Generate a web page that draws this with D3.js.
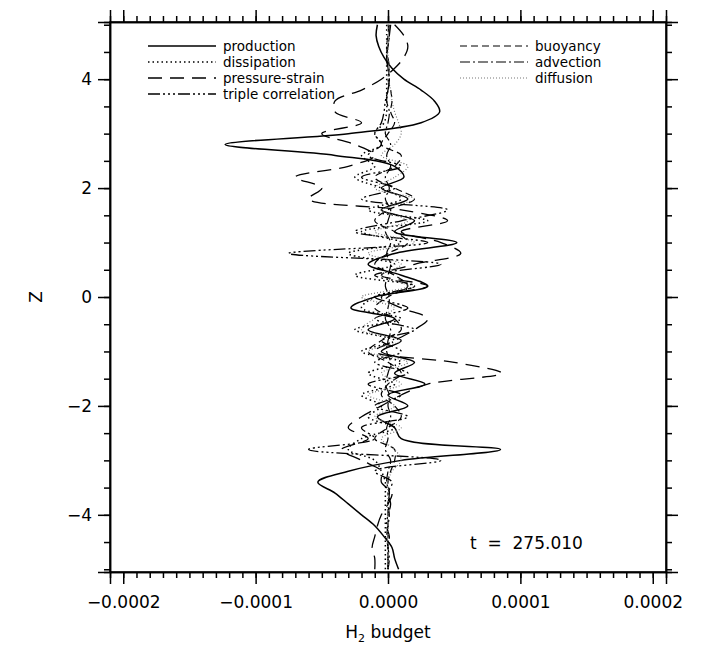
<!DOCTYPE html>
<html><head><meta charset="utf-8">
<script src="https://cdn.jsdelivr.net/npm/d3@7"></script>
<style>body{margin:0;background:#fff}text{font-family:"DejaVu Sans",sans-serif}</style>
</head><body><svg id="c" width="722" height="649"></svg>
<script>
// z levels from 5.0 down to -5.0 step 0.2; values in units of 1e-5
const zLevels = d3.range(51).map(i => +(5 - i*0.2).toFixed(1));
const production = [-0.8,-0.9,-0.7,-0.3,0.3,1.2,2.5,3.5,3.9,2.5,-3,-12.3,-4,0.5,1.2,-0.5,1.5,-0.5,2,0.5,5.2,0.5,-1.5,1,3,-1,-2.8,0.5,-1.5,1,-0.5,2,0.5,2.8,0,1.5,-0.8,0.5,1,8.5,1,-3,-5.3,-4,-3,-2,-1,-0.3,0.3,0.5,0.8];
const dissipation = [-0.1,-0.1,-0.1,-0.1,-0.1,-0.1,-0.1,-0.1,-0.1,-0.3,-1,-0.5,-2,-1,-2.5,-0.5,1,-1.5,3,-2,1,-3,0.5,-2.5,2,-1,-2,1,-2.5,0.5,-2,1,-1.5,0.5,-2,-0.5,-1.5,0.5,-2,-3,-1,-0.5,-0.2,-0.2,-0.2,-0.2,-0.2,-0.2,-0.2,-0.2,-0.2];
const pressureStrain = [0.5,1.2,1.5,1.2,0.5,-0.5,-2,-4,-4,-2,-5,-2.5,-1,-3,-7,-5,-6,1,4.5,1,4,5.5,2,-0.5,3,-0.5,1,3,2,0.5,-1,5,8.6,3,1,-0.5,-2,-3,-1.5,-3.5,-2,-0.5,-0.5,0.3,0,-0.5,-0.8,-1,-1.2,-1,-1];
const tripleCorrelation = [0.2,0.1,0,-0.1,0,0.1,0,-0.2,-0.3,-0.5,-1,-0.5,-1.5,1,-2,0.5,-2,4.5,1,-2.5,3,-7.5,4,-1,2,-1,1.5,-1,2,-0.5,1,-1,1.5,-1.5,1,-1,1.5,-2,-1,-6,4,-1,0.3,0,0.2,0,-0.1,0.1,0,0,0];
const buoyancy = [0.1,0,-0.1,0,0.1,0,0.2,0.3,0.2,0.5,0,-0.5,1,0.5,-1,0.5,2,0,-1,0.5,1.5,0,-1,0.5,1.5,0,-1,0.5,1,-0.5,-1.5,0,1,0,-0.5,0.5,1,0,-1,0.5,0.5,0.2,0,0.1,0,0,0,0,0,0,0];
const advection = [0,0.1,0,-0.1,0,0.1,0,-0.1,0.1,0,-0.2,0.2,-0.1,0.2,-0.2,0.1,-0.2,0.2,0,-0.2,0.2,-0.1,0.2,0,-0.2,0.1,0,-0.2,0.2,0,-0.1,0.2,0,-0.2,0.1,0,0.2,-0.1,0,-0.2,0.2,0,-0.1,0.1,0,0.1,0,-0.1,0,0.1,0];
const diffusion = [0,0,0,0,0.1,0,0.2,0.3,0.5,0.8,1,0.5,-0.5,1.5,0.5,-1,2,-0.5,1.5,-1,2,-1.5,1,-0.5,1.5,-2,0.5,-1,-2,1,-1.5,1.5,-0.5,1,-1.5,0.5,-1,1,-0.5,0.5,1,0.3,0,0,0,0,0,0,0,0,0];
const xTicks = [-0.0002,-0.0001,0,0.0001,0.0002];
const yTicks = [-4,-2,0,2,4];

const svg = d3.select("#c");
const L=110,R=666,T=22,B=572;
const x = d3.scaleLinear().domain([-0.00021,0.00021]).range([L,R]);
const y = d3.scaleLinear().domain([-5.05,5.05]).range([B,T]);

const series = [
 {name:"production",v:production,dash:null,col:"#000",w:1.5},
 {name:"dissipation",v:dissipation,dash:"1.5,3",col:"#000",w:1.5},
 {name:"pressure-strain",v:pressureStrain,dash:"14,8",col:"#000",w:1.3},
 {name:"triple correlation",v:tripleCorrelation,dash:"12,3,2,3,2,3,2,3",col:"#000",w:1.3},
 {name:"buoyancy",v:buoyancy,dash:"7,4",col:"#000",w:1.2},
 {name:"advection",v:advection,dash:"10,3,2,3",col:"#000",w:1.2},
 {name:"diffusion",v:diffusion,dash:"1,2",col:"#777",w:1.2}
];
const line = d3.line().x(d=>x(d[0]*1e-5)).y(d=>y(d[1])).curve(d3.curveCatmullRom);
const g = svg.append("g");
g.append("defs").append("clipPath").attr("id","cp").append("rect").attr("x",L).attr("y",T).attr("width",R-L).attr("height",B-T);
const pg = g.append("g").attr("clip-path","url(#cp)");
series.forEach(s=>{
  pg.append("path").datum(s.v.map((v,i)=>[v,zLevels[i]])).attr("d",line)
   .attr("fill","none").attr("stroke",s.col).attr("stroke-width",s.w).attr("stroke-dasharray",s.dash);
});

function axisStyle(sel){sel.selectAll("path,line").attr("stroke","#000").attr("stroke-width",1.5);
 sel.selectAll("text").attr("font-size",17).attr("fill","#000").style("font-family","DejaVu Sans");}
const xMinor = d3.range(-20,21).map(i=>i*1e-5);
const yMinor = d3.range(-10,11).map(i=>i*0.5);
[[d3.axisBottom,B],[d3.axisTop,T]].forEach(([a,p],k)=>{
  svg.append("g").attr("transform",`translate(0,${p})`).call(a(x).tickValues(xMinor).tickSize(6).tickFormat("")).call(axisStyle);
  const ax=svg.append("g").attr("transform",`translate(0,${p})`).call(a(x).tickValues(xTicks).tickSize(12).tickPadding(12).tickFormat(k?"":d3.format(".4f"))).call(axisStyle);
  ax.selectAll("text").text(function(){return this.textContent.replace("-","\u2212");});
});
[[d3.axisLeft,L],[d3.axisRight,R]].forEach(([a,p],k)=>{
  svg.append("g").attr("transform",`translate(${p},0)`).call(a(y).tickValues(yMinor).tickSize(6).tickFormat("")).call(axisStyle);
  svg.append("g").attr("transform",`translate(${p},0)`).call(a(y).tickValues(yTicks).tickSize(12).tickPadding(6).tickFormat(k?"":d=>String(d).replace("-","\u2212"))).call(axisStyle);
});
svg.append("rect").attr("x",L).attr("y",T).attr("width",R-L).attr("height",B-T).attr("fill","none").attr("stroke","#000").attr("stroke-width",1.5);

svg.append("text").attr("x",388).attr("y",638).attr("text-anchor","middle").attr("font-size",17)
 .html('H<tspan font-size="11" dy="4">2</tspan><tspan dy="-4"> budget</tspan>');
svg.append("text").attr("transform","translate(42,297) rotate(-90)").attr("text-anchor","middle").attr("font-size",17).text("Z");
svg.append("text").attr("x",470).attr("y",549).attr("font-size",17).attr("xml:space","preserve").text("t  =  275.010");

const leg=[[0,148,46],[1,148,62],[2,148,78],[3,148,94],[4,460,46],[5,460,62],[6,460,78]];
leg.forEach(([i,lx,ly])=>{
  const s=series[i];
  svg.append("line").attr("x1",lx).attr("x2",lx+68).attr("y1",ly).attr("y2",ly).attr("stroke",s.col).attr("stroke-width",s.w).attr("stroke-dasharray",s.dash);
  svg.append("text").attr("x",lx+75).attr("y",ly+5).attr("font-size",13.5).text(s.name);
});
</script></body></html>
